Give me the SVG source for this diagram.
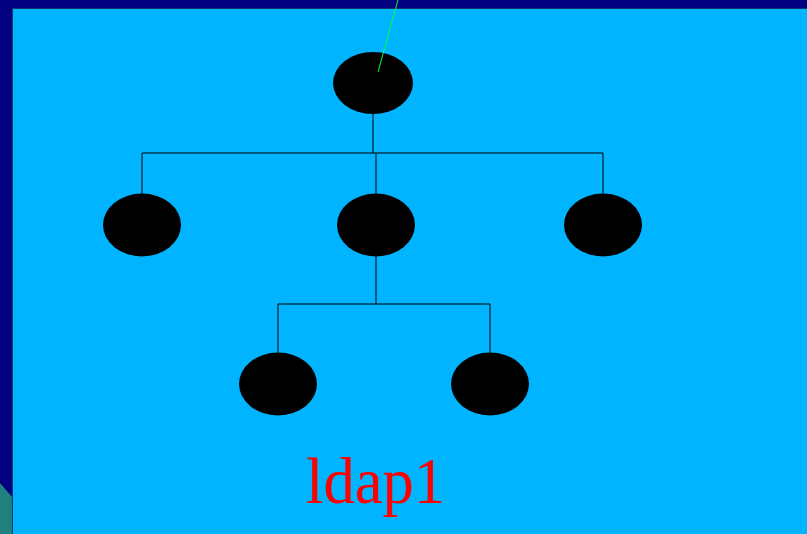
<svg xmlns="http://www.w3.org/2000/svg" width="807" height="534" viewBox="0 0 807 534">
  <style>
    .node { fill: #000000; }
    .link { stroke: #000000; stroke-width: 1; fill: none; }
    .label { font-family: "Liberation Serif", "Times New Roman", serif; fill: #FF0000; }
  </style>
  <!-- page background and panel -->
  <rect x="0" y="0" width="807" height="534" fill="#000080"/>
  <polygon points="0,483 13,498 13,534 0,534" fill="#1F8080"/>
  <rect x="12.5" y="8.5" width="800" height="530" fill="#00B4FF" stroke="#0A3A6A" stroke-width="1"/>

  <g id="connectors">
    <line class="link" x1="373" y1="114" x2="373" y2="153" stroke-width="2"/>
    <polyline class="link" points="142,194 142,153 603,153 603,194"/>
    <line class="link" x1="376" y1="153" x2="376" y2="194"/>
    <line class="link" x1="376" y1="256" x2="376" y2="304"/>
    <polyline class="link" points="278,353 278,304 490,304 490,353"/>
  </g>

  <g id="root"><ellipse class="node" cx="373" cy="83" rx="40" ry="31"/></g>
  <g id="child-left"><ellipse class="node" cx="142" cy="225" rx="39" ry="31.5"/></g>
  <g id="child-middle"><ellipse class="node" cx="376" cy="225" rx="39" ry="31.5"/></g>
  <g id="child-right"><ellipse class="node" cx="603" cy="225" rx="39" ry="31.5"/></g>
  <g id="leaf-left"><ellipse class="node" cx="278" cy="384" rx="39" ry="31.5"/></g>
  <g id="leaf-right"><ellipse class="node" cx="490" cy="384" rx="39" ry="31.5"/></g>

  <!-- pointer line entering the root node -->
  <line x1="398" y1="0" x2="378" y2="72" stroke="#00FF40" stroke-width="1"/>

  <g id="caption"><text class="label" x="306" y="503" font-size="66" textLength="139" lengthAdjust="spacingAndGlyphs">ldap1</text></g>
</svg>
